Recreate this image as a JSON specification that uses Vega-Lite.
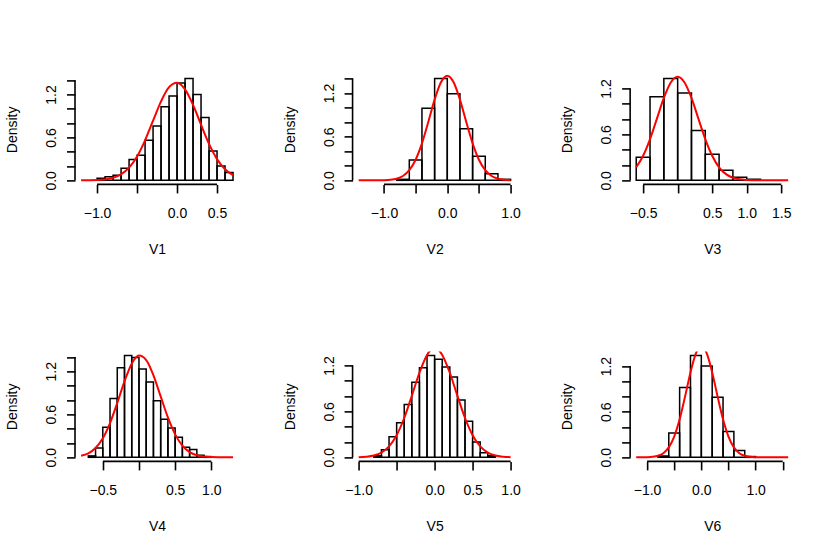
{
  "$schema": "https://vega.github.io/schema/vega-lite/v6.json",
  "background": "white",
  "autosize": {"type": "pad"},
  "padding": {"left": 5, "top": 74.4, "right": 10, "bottom": 10},
  "columns": 3,
  "spacing": {"row": 167, "column": 112.57},
  "bounds": "flush",
  "datasets": {
    "hist": [
      {"v": "V1", "x": -1.0, "x2": -0.9, "d": 0.03},
      {"v": "V1", "x": -0.9, "x2": -0.8, "d": 0.05},
      {"v": "V1", "x": -0.8, "x2": -0.7, "d": 0.07},
      {"v": "V1", "x": -0.7, "x2": -0.6, "d": 0.17},
      {"v": "V1", "x": -0.6, "x2": -0.5, "d": 0.29},
      {"v": "V1", "x": -0.5, "x2": -0.4, "d": 0.35},
      {"v": "V1", "x": -0.4, "x2": -0.3, "d": 0.56},
      {"v": "V1", "x": -0.3, "x2": -0.2, "d": 0.76},
      {"v": "V1", "x": -0.2, "x2": -0.1, "d": 1.03},
      {"v": "V1", "x": -0.1, "x2": 0.0, "d": 1.18},
      {"v": "V1", "x": 0.0, "x2": 0.1, "d": 1.36},
      {"v": "V1", "x": 0.1, "x2": 0.2, "d": 1.425},
      {"v": "V1", "x": 0.2, "x2": 0.3, "d": 1.2},
      {"v": "V1", "x": 0.3, "x2": 0.4, "d": 0.88},
      {"v": "V1", "x": 0.4, "x2": 0.5, "d": 0.41},
      {"v": "V1", "x": 0.5, "x2": 0.6, "d": 0.2},
      {"v": "V1", "x": 0.6, "x2": 0.7, "d": 0.11},
      {"v": "V2", "x": -0.8, "x2": -0.6, "d": 0.014},
      {"v": "V2", "x": -0.6, "x2": -0.4, "d": 0.28},
      {"v": "V2", "x": -0.4, "x2": -0.2, "d": 0.99},
      {"v": "V2", "x": -0.2, "x2": 0.0, "d": 1.4},
      {"v": "V2", "x": 0.0, "x2": 0.2, "d": 1.19},
      {"v": "V2", "x": 0.2, "x2": 0.4, "d": 0.71},
      {"v": "V2", "x": 0.4, "x2": 0.6, "d": 0.33},
      {"v": "V2", "x": 0.6, "x2": 0.8, "d": 0.09},
      {"v": "V2", "x": 0.8, "x2": 1.0, "d": 0.014},
      {"v": "V3", "x": -0.6, "x2": -0.4, "d": 0.3},
      {"v": "V3", "x": -0.4, "x2": -0.2, "d": 1.09},
      {"v": "V3", "x": -0.2, "x2": 0.0, "d": 1.33},
      {"v": "V3", "x": 0.0, "x2": 0.2, "d": 1.14},
      {"v": "V3", "x": 0.2, "x2": 0.4, "d": 0.65},
      {"v": "V3", "x": 0.4, "x2": 0.6, "d": 0.34},
      {"v": "V3", "x": 0.6, "x2": 0.8, "d": 0.13},
      {"v": "V3", "x": 0.8, "x2": 1.0, "d": 0.04},
      {"v": "V3", "x": 1.0, "x2": 1.2, "d": 0.013},
      {"v": "V4", "x": -0.7, "x2": -0.6, "d": 0.02},
      {"v": "V4", "x": -0.6, "x2": -0.5, "d": 0.13},
      {"v": "V4", "x": -0.5, "x2": -0.4, "d": 0.42},
      {"v": "V4", "x": -0.4, "x2": -0.3, "d": 0.82},
      {"v": "V4", "x": -0.3, "x2": -0.2, "d": 1.25},
      {"v": "V4", "x": -0.2, "x2": -0.1, "d": 1.42},
      {"v": "V4", "x": -0.1, "x2": 0.0, "d": 1.39},
      {"v": "V4", "x": 0.0, "x2": 0.1, "d": 1.23},
      {"v": "V4", "x": 0.1, "x2": 0.2, "d": 1.05},
      {"v": "V4", "x": 0.2, "x2": 0.3, "d": 0.79},
      {"v": "V4", "x": 0.3, "x2": 0.4, "d": 0.53},
      {"v": "V4", "x": 0.4, "x2": 0.5, "d": 0.41},
      {"v": "V4", "x": 0.5, "x2": 0.6, "d": 0.28},
      {"v": "V4", "x": 0.6, "x2": 0.7, "d": 0.14},
      {"v": "V4", "x": 0.7, "x2": 0.8, "d": 0.11},
      {"v": "V4", "x": 0.8, "x2": 0.9, "d": 0.03},
      {"v": "V4", "x": 0.9, "x2": 1.0, "d": 0.01},
      {"v": "V5", "x": -0.8, "x2": -0.7, "d": 0.02},
      {"v": "V5", "x": -0.7, "x2": -0.6, "d": 0.1},
      {"v": "V5", "x": -0.6, "x2": -0.5, "d": 0.27},
      {"v": "V5", "x": -0.5, "x2": -0.4, "d": 0.45},
      {"v": "V5", "x": -0.4, "x2": -0.3, "d": 0.69},
      {"v": "V5", "x": -0.3, "x2": -0.2, "d": 0.98},
      {"v": "V5", "x": -0.2, "x2": -0.1, "d": 1.17},
      {"v": "V5", "x": -0.1, "x2": 0.0, "d": 1.33},
      {"v": "V5", "x": 0.0, "x2": 0.1, "d": 1.28},
      {"v": "V5", "x": 0.1, "x2": 0.2, "d": 1.18},
      {"v": "V5", "x": 0.2, "x2": 0.3, "d": 1.05},
      {"v": "V5", "x": 0.3, "x2": 0.4, "d": 0.75},
      {"v": "V5", "x": 0.4, "x2": 0.5, "d": 0.47},
      {"v": "V5", "x": 0.5, "x2": 0.6, "d": 0.2},
      {"v": "V5", "x": 0.6, "x2": 0.7, "d": 0.06},
      {"v": "V5", "x": 0.7, "x2": 0.8, "d": 0.02},
      {"v": "V6", "x": -0.8, "x2": -0.6, "d": 0.018},
      {"v": "V6", "x": -0.6, "x2": -0.4, "d": 0.32},
      {"v": "V6", "x": -0.4, "x2": -0.2, "d": 0.92},
      {"v": "V6", "x": -0.2, "x2": 0.0, "d": 1.34},
      {"v": "V6", "x": 0.0, "x2": 0.2, "d": 1.2},
      {"v": "V6", "x": 0.2, "x2": 0.4, "d": 0.79},
      {"v": "V6", "x": 0.4, "x2": 0.6, "d": 0.34},
      {"v": "V6", "x": 0.6, "x2": 0.8, "d": 0.09},
      {"v": "V6", "x": 0.8, "x2": 1.0, "d": 0.01}
    ],
    "fit": [
      {"v": "V1", "x": -1.2, "d": 0.0003},
      {"v": "V1", "x": -1.1, "d": 0.0013},
      {"v": "V1", "x": -1.0, "d": 0.0044},
      {"v": "V1", "x": -0.9, "d": 0.0131},
      {"v": "V1", "x": -0.8, "d": 0.0352},
      {"v": "V1", "x": -0.7, "d": 0.0838},
      {"v": "V1", "x": -0.6, "d": 0.1773},
      {"v": "V1", "x": -0.5, "d": 0.334},
      {"v": "V1", "x": -0.4, "d": 0.56},
      {"v": "V1", "x": -0.3, "d": 0.834},
      {"v": "V1", "x": -0.2, "d": 1.105},
      {"v": "V1", "x": -0.1, "d": 1.303},
      {"v": "V1", "x": 0.0, "d": 1.365},
      {"v": "V1", "x": 0.1, "d": 1.272},
      {"v": "V1", "x": 0.2, "d": 1.055},
      {"v": "V1", "x": 0.3, "d": 0.778},
      {"v": "V1", "x": 0.4, "d": 0.51},
      {"v": "V1", "x": 0.5, "d": 0.297},
      {"v": "V1", "x": 0.6, "d": 0.154},
      {"v": "V1", "x": 0.7, "d": 0.071},
      {"v": "V2", "x": -1.4, "d": 0.0},
      {"v": "V2", "x": -1.3, "d": 0.0},
      {"v": "V2", "x": -1.2, "d": 0.0001},
      {"v": "V2", "x": -1.1, "d": 0.0006},
      {"v": "V2", "x": -1.0, "d": 0.0022},
      {"v": "V2", "x": -0.9, "d": 0.0075},
      {"v": "V2", "x": -0.8, "d": 0.0225},
      {"v": "V2", "x": -0.7, "d": 0.0595},
      {"v": "V2", "x": -0.6, "d": 0.1387},
      {"v": "V2", "x": -0.5, "d": 0.2833},
      {"v": "V2", "x": -0.4, "d": 0.5085},
      {"v": "V2", "x": -0.3, "d": 0.8013},
      {"v": "V2", "x": -0.2, "d": 1.1089},
      {"v": "V2", "x": -0.1, "d": 1.3476},
      {"v": "V2", "x": 0.0, "d": 1.438},
      {"v": "V2", "x": 0.1, "d": 1.3476},
      {"v": "V2", "x": 0.2, "d": 1.1089},
      {"v": "V2", "x": 0.3, "d": 0.8013},
      {"v": "V2", "x": 0.4, "d": 0.5085},
      {"v": "V2", "x": 0.5, "d": 0.2833},
      {"v": "V2", "x": 0.6, "d": 0.1387},
      {"v": "V2", "x": 0.7, "d": 0.0595},
      {"v": "V2", "x": 0.8, "d": 0.0225},
      {"v": "V2", "x": 0.9, "d": 0.0075},
      {"v": "V2", "x": 1.0, "d": 0.0022},
      {"v": "V3", "x": -0.6, "d": 0.1702},
      {"v": "V3", "x": -0.5, "d": 0.3208},
      {"v": "V3", "x": -0.4, "d": 0.5386},
      {"v": "V3", "x": -0.3, "d": 0.8062},
      {"v": "V3", "x": -0.2, "d": 1.0753},
      {"v": "V3", "x": -0.1, "d": 1.2782},
      {"v": "V3", "x": 0.0, "d": 1.354},
      {"v": "V3", "x": 0.1, "d": 1.2782},
      {"v": "V3", "x": 0.2, "d": 1.0753},
      {"v": "V3", "x": 0.3, "d": 0.8062},
      {"v": "V3", "x": 0.4, "d": 0.5386},
      {"v": "V3", "x": 0.5, "d": 0.3208},
      {"v": "V3", "x": 0.6, "d": 0.1702},
      {"v": "V3", "x": 0.7, "d": 0.0804},
      {"v": "V3", "x": 0.8, "d": 0.0339},
      {"v": "V3", "x": 0.9, "d": 0.0127},
      {"v": "V3", "x": 1.0, "d": 0.0043},
      {"v": "V3", "x": 1.1, "d": 0.0013},
      {"v": "V3", "x": 1.2, "d": 0.0003},
      {"v": "V3", "x": 1.3, "d": 0.0001},
      {"v": "V3", "x": 1.4, "d": 0.0},
      {"v": "V3", "x": 1.5, "d": 0.0},
      {"v": "V3", "x": 1.6, "d": 0.0},
      {"v": "V4", "x": -0.8, "d": 0.0212},
      {"v": "V4", "x": -0.7, "d": 0.0558},
      {"v": "V4", "x": -0.6, "d": 0.1295},
      {"v": "V4", "x": -0.5, "d": 0.2648},
      {"v": "V4", "x": -0.4, "d": 0.4773},
      {"v": "V4", "x": -0.3, "d": 0.7576},
      {"v": "V4", "x": -0.2, "d": 1.0596},
      {"v": "V4", "x": -0.1, "d": 1.306},
      {"v": "V4", "x": 0.0, "d": 1.418},
      {"v": "V4", "x": 0.1, "d": 1.3565},
      {"v": "V4", "x": 0.2, "d": 1.1432},
      {"v": "V4", "x": 0.3, "d": 0.849},
      {"v": "V4", "x": 0.4, "d": 0.5555},
      {"v": "V4", "x": 0.5, "d": 0.3202},
      {"v": "V4", "x": 0.6, "d": 0.1626},
      {"v": "V4", "x": 0.7, "d": 0.0728},
      {"v": "V4", "x": 0.8, "d": 0.0287},
      {"v": "V4", "x": 0.9, "d": 0.01},
      {"v": "V4", "x": 1.0, "d": 0.0031},
      {"v": "V4", "x": 1.1, "d": 0.0008},
      {"v": "V4", "x": 1.2, "d": 0.0002},
      {"v": "V4", "x": 1.3, "d": 0.0},
      {"v": "V5", "x": -1.0, "d": 0.0024},
      {"v": "V5", "x": -0.9, "d": 0.0081},
      {"v": "V5", "x": -0.8, "d": 0.024},
      {"v": "V5", "x": -0.7, "d": 0.0626},
      {"v": "V5", "x": -0.6, "d": 0.1435},
      {"v": "V5", "x": -0.5, "d": 0.2893},
      {"v": "V5", "x": -0.4, "d": 0.5136},
      {"v": "V5", "x": -0.3, "d": 0.8027},
      {"v": "V5", "x": -0.2, "d": 1.1041},
      {"v": "V5", "x": -0.1, "d": 1.337},
      {"v": "V5", "x": -0.05, "d": 1.4025},
      {"v": "V5", "x": 0.0, "d": 1.425},
      {"v": "V5", "x": 0.05, "d": 1.4025},
      {"v": "V5", "x": 0.1, "d": 1.337},
      {"v": "V5", "x": 0.2, "d": 1.1041},
      {"v": "V5", "x": 0.3, "d": 0.8027},
      {"v": "V5", "x": 0.4, "d": 0.5136},
      {"v": "V5", "x": 0.5, "d": 0.2893},
      {"v": "V5", "x": 0.6, "d": 0.1435},
      {"v": "V5", "x": 0.7, "d": 0.0626},
      {"v": "V5", "x": 0.8, "d": 0.024},
      {"v": "V5", "x": 0.9, "d": 0.0081},
      {"v": "V5", "x": 1.0, "d": 0.0024},
      {"v": "V6", "x": -1.2, "d": 0.0001},
      {"v": "V6", "x": -1.1, "d": 0.0004},
      {"v": "V6", "x": -1.0, "d": 0.0018},
      {"v": "V6", "x": -0.9, "d": 0.0064},
      {"v": "V6", "x": -0.8, "d": 0.0199},
      {"v": "V6", "x": -0.7, "d": 0.0546},
      {"v": "V6", "x": -0.6, "d": 0.1306},
      {"v": "V6", "x": -0.5, "d": 0.273},
      {"v": "V6", "x": -0.4, "d": 0.4994},
      {"v": "V6", "x": -0.3, "d": 0.7988},
      {"v": "V6", "x": -0.2, "d": 1.1171},
      {"v": "V6", "x": -0.1, "d": 1.3662},
      {"v": "V6", "x": -0.05, "d": 1.4367},
      {"v": "V6", "x": 0.0, "d": 1.461},
      {"v": "V6", "x": 0.05, "d": 1.4367},
      {"v": "V6", "x": 0.1, "d": 1.3662},
      {"v": "V6", "x": 0.2, "d": 1.1171},
      {"v": "V6", "x": 0.3, "d": 0.7988},
      {"v": "V6", "x": 0.4, "d": 0.4994},
      {"v": "V6", "x": 0.5, "d": 0.273},
      {"v": "V6", "x": 0.6, "d": 0.1306},
      {"v": "V6", "x": 0.7, "d": 0.0546},
      {"v": "V6", "x": 0.8, "d": 0.0199},
      {"v": "V6", "x": 0.9, "d": 0.0064},
      {"v": "V6", "x": 1.0, "d": 0.0018},
      {"v": "V6", "x": 1.1, "d": 0.0004},
      {"v": "V6", "x": 1.2, "d": 0.0001},
      {"v": "V6", "x": 1.3, "d": 0.0},
      {"v": "V6", "x": 1.4, "d": 0.0},
      {"v": "V6", "x": 1.5, "d": 0.0},
      {"v": "V6", "x": 1.6, "d": 0.0}
    ]
  },
  "concat": [
    {
      "width": 164.1,
      "height": 110,
      "layer": [
        {"data": {"name": "hist"}, "transform": [{"filter": "datum.v == 'V1'"}],
          "mark": {"type": "rect", "filled": false, "stroke": "black", "strokeWidth": 1.5},
          "encoding": {
            "x": {"field": "x", "type": "quantitative", "title": "V1", "scale": {"domain": [-1.276, 0.776], "nice": false, "zero": false},
              "axis": {"title": "V1", "tickCount": 20, "values": [-1, -0.5, 0, 0.5], "labelExpr": "datum.value == -1 || datum.value == 0 || datum.value == 0.5 ? format(datum.value, '.1f') : ''"}},
            "x2": {"field": "x2"},
            "y": {"field": "d", "type": "quantitative", "title": "Density", "scale": {"domain": [-0.057, 1.482], "nice": false, "zero": false},
              "axis": {"title": "Density", "tickCount": 20, "values": [0, 0.2, 0.4, 0.6, 0.8, 1, 1.2, 1.4], "labelExpr": "datum.value == 0 || datum.value == 0.6 || datum.value == 1.2 ? format(datum.value, '.1f') : ''"}},
            "y2": {"datum": 0}
          }},
        {"data": {"name": "fit"}, "transform": [{"filter": "datum.v == 'V1'"}],
          "mark": {"type": "line", "color": "#ff0000", "strokeWidth": 2, "interpolate": "monotone", "clip": true},
          "encoding": {
            "x": {"field": "x", "type": "quantitative", "title": "V1"},
            "y": {"field": "d", "type": "quantitative", "title": "Density"}
          }},
        {"data": {"values": [{}]}, "mark": {"type": "rule", "color": "black", "strokeWidth": 1.6},
          "encoding": {
            "x": {"datum": -1, "type": "quantitative", "axis": {"title": "V1", "tickCount": 20, "values": [-1, -0.5, 0, 0.5], "labelExpr": "datum.value == -1 || datum.value == 0 || datum.value == 0.5 ? format(datum.value, '.1f') : ''"}},
            "x2": {"datum": 0.5},
            "y": {"datum": -0.057, "type": "quantitative", "axis": {"title": "Density", "tickCount": 20, "values": [0, 0.2, 0.4, 0.6, 0.8, 1, 1.2, 1.4], "labelExpr": "datum.value == 0 || datum.value == 0.6 || datum.value == 1.2 ? format(datum.value, '.1f') : ''"}}
          }},
        {"data": {"values": [{}]}, "mark": {"type": "rule", "color": "black", "strokeWidth": 1.6},
          "encoding": {
            "x": {"datum": -1.276, "type": "quantitative", "axis": {"title": "V1", "tickCount": 20, "values": [-1, -0.5, 0, 0.5], "labelExpr": "datum.value == -1 || datum.value == 0 || datum.value == 0.5 ? format(datum.value, '.1f') : ''"}},
            "y": {"datum": 0, "type": "quantitative", "axis": {"title": "Density", "tickCount": 20, "values": [0, 0.2, 0.4, 0.6, 0.8, 1, 1.2, 1.4], "labelExpr": "datum.value == 0 || datum.value == 0.6 || datum.value == 1.2 ? format(datum.value, '.1f') : ''"}},
            "y2": {"datum": 1.4}
          }}
      ]
    },
    {
      "width": 164.1,
      "height": 110,
      "layer": [
        {"data": {"name": "hist"}, "transform": [{"filter": "datum.v == 'V2'"}],
          "mark": {"type": "rect", "filled": false, "stroke": "black", "strokeWidth": 1.5},
          "encoding": {
            "x": {"field": "x", "type": "quantitative", "title": "V2", "scale": {"domain": [-1.496, 1.096], "nice": false, "zero": false},
              "axis": {"title": "V2", "tickCount": 20, "values": [-1, -0.5, 0, 0.5, 1], "labelExpr": "datum.value == -1 || datum.value == 0 || datum.value == 1 ? format(datum.value, '.1f') : ''"}},
            "x2": {"field": "x2"},
            "y": {"field": "d", "type": "quantitative", "title": "Density", "scale": {"domain": [-0.056, 1.456], "nice": false, "zero": false},
              "axis": {"title": "Density", "tickCount": 20, "values": [0, 0.2, 0.4, 0.6, 0.8, 1, 1.2, 1.4], "labelExpr": "datum.value == 0 || datum.value == 0.6 || datum.value == 1.2 ? format(datum.value, '.1f') : ''"}},
            "y2": {"datum": 0}
          }},
        {"data": {"name": "fit"}, "transform": [{"filter": "datum.v == 'V2'"}],
          "mark": {"type": "line", "color": "#ff0000", "strokeWidth": 2, "interpolate": "monotone", "clip": true},
          "encoding": {
            "x": {"field": "x", "type": "quantitative", "title": "V2"},
            "y": {"field": "d", "type": "quantitative", "title": "Density"}
          }},
        {"data": {"values": [{}]}, "mark": {"type": "rule", "color": "black", "strokeWidth": 1.6},
          "encoding": {
            "x": {"datum": -1, "type": "quantitative", "axis": {"title": "V2", "tickCount": 20, "values": [-1, -0.5, 0, 0.5, 1], "labelExpr": "datum.value == -1 || datum.value == 0 || datum.value == 1 ? format(datum.value, '.1f') : ''"}},
            "x2": {"datum": 1},
            "y": {"datum": -0.056, "type": "quantitative", "axis": {"title": "Density", "tickCount": 20, "values": [0, 0.2, 0.4, 0.6, 0.8, 1, 1.2, 1.4], "labelExpr": "datum.value == 0 || datum.value == 0.6 || datum.value == 1.2 ? format(datum.value, '.1f') : ''"}}
          }},
        {"data": {"values": [{}]}, "mark": {"type": "rule", "color": "black", "strokeWidth": 1.6},
          "encoding": {
            "x": {"datum": -1.496, "type": "quantitative", "axis": {"title": "V2", "tickCount": 20, "values": [-1, -0.5, 0, 0.5, 1], "labelExpr": "datum.value == -1 || datum.value == 0 || datum.value == 1 ? format(datum.value, '.1f') : ''"}},
            "y": {"datum": 0, "type": "quantitative", "axis": {"title": "Density", "tickCount": 20, "values": [0, 0.2, 0.4, 0.6, 0.8, 1, 1.2, 1.4], "labelExpr": "datum.value == 0 || datum.value == 0.6 || datum.value == 1.2 ? format(datum.value, '.1f') : ''"}},
            "y2": {"datum": 1.4}
          }}
      ]
    },
    {
      "width": 164.1,
      "height": 110,
      "layer": [
        {"data": {"name": "hist"}, "transform": [{"filter": "datum.v == 'V3'"}],
          "mark": {"type": "rect", "filled": false, "stroke": "black", "strokeWidth": 1.5},
          "encoding": {
            "x": {"field": "x", "type": "quantitative", "title": "V3", "scale": {"domain": [-0.688, 1.688], "nice": false, "zero": false},
              "axis": {"title": "V3", "tickCount": 20, "values": [-0.5, 0, 0.5, 1, 1.5], "labelExpr": "datum.value == -0.5 || datum.value == 0.5 || datum.value == 1 || datum.value == 1.5 ? format(datum.value, '.1f') : ''"}},
            "x2": {"field": "x2"},
            "y": {"field": "d", "type": "quantitative", "title": "Density", "scale": {"domain": [-0.0532, 1.3832], "nice": false, "zero": false},
              "axis": {"title": "Density", "tickCount": 20, "values": [0, 0.2, 0.4, 0.6, 0.8, 1, 1.2], "labelExpr": "datum.value == 0 || datum.value == 0.6 || datum.value == 1.2 ? format(datum.value, '.1f') : ''"}},
            "y2": {"datum": 0}
          }},
        {"data": {"name": "fit"}, "transform": [{"filter": "datum.v == 'V3'"}],
          "mark": {"type": "line", "color": "#ff0000", "strokeWidth": 2, "interpolate": "monotone", "clip": true},
          "encoding": {
            "x": {"field": "x", "type": "quantitative", "title": "V3"},
            "y": {"field": "d", "type": "quantitative", "title": "Density"}
          }},
        {"data": {"values": [{}]}, "mark": {"type": "rule", "color": "black", "strokeWidth": 1.6},
          "encoding": {
            "x": {"datum": -0.5, "type": "quantitative", "axis": {"title": "V3", "tickCount": 20, "values": [-0.5, 0, 0.5, 1, 1.5], "labelExpr": "datum.value == -0.5 || datum.value == 0.5 || datum.value == 1 || datum.value == 1.5 ? format(datum.value, '.1f') : ''"}},
            "x2": {"datum": 1.5},
            "y": {"datum": -0.0532, "type": "quantitative", "axis": {"title": "Density", "tickCount": 20, "values": [0, 0.2, 0.4, 0.6, 0.8, 1, 1.2], "labelExpr": "datum.value == 0 || datum.value == 0.6 || datum.value == 1.2 ? format(datum.value, '.1f') : ''"}}
          }},
        {"data": {"values": [{}]}, "mark": {"type": "rule", "color": "black", "strokeWidth": 1.6},
          "encoding": {
            "x": {"datum": -0.688, "type": "quantitative", "axis": {"title": "V3", "tickCount": 20, "values": [-0.5, 0, 0.5, 1, 1.5], "labelExpr": "datum.value == -0.5 || datum.value == 0.5 || datum.value == 1 || datum.value == 1.5 ? format(datum.value, '.1f') : ''"}},
            "y": {"datum": 0, "type": "quantitative", "axis": {"title": "Density", "tickCount": 20, "values": [0, 0.2, 0.4, 0.6, 0.8, 1, 1.2], "labelExpr": "datum.value == 0 || datum.value == 0.6 || datum.value == 1.2 ? format(datum.value, '.1f') : ''"}},
            "y2": {"datum": 1.2}
          }}
      ]
    },
    {
      "width": 164.1,
      "height": 110,
      "layer": [
        {"data": {"name": "hist"}, "transform": [{"filter": "datum.v == 'V4'"}],
          "mark": {"type": "rect", "filled": false, "stroke": "black", "strokeWidth": 1.5},
          "encoding": {
            "x": {"field": "x", "type": "quantitative", "title": "V4", "scale": {"domain": [-0.884, 1.384], "nice": false, "zero": false},
              "axis": {"title": "V4", "tickCount": 20, "values": [-0.5, 0, 0.5, 1], "labelExpr": "datum.value == -0.5 || datum.value == 0.5 || datum.value == 1 ? format(datum.value, '.1f') : ''"}},
            "x2": {"field": "x2"},
            "y": {"field": "d", "type": "quantitative", "title": "Density", "scale": {"domain": [-0.0568, 1.4768], "nice": false, "zero": false},
              "axis": {"title": "Density", "tickCount": 20, "values": [0, 0.2, 0.4, 0.6, 0.8, 1, 1.2, 1.4], "labelExpr": "datum.value == 0 || datum.value == 0.6 || datum.value == 1.2 ? format(datum.value, '.1f') : ''"}},
            "y2": {"datum": 0}
          }},
        {"data": {"name": "fit"}, "transform": [{"filter": "datum.v == 'V4'"}],
          "mark": {"type": "line", "color": "#ff0000", "strokeWidth": 2, "interpolate": "monotone", "clip": true},
          "encoding": {
            "x": {"field": "x", "type": "quantitative", "title": "V4"},
            "y": {"field": "d", "type": "quantitative", "title": "Density"}
          }},
        {"data": {"values": [{}]}, "mark": {"type": "rule", "color": "black", "strokeWidth": 1.6},
          "encoding": {
            "x": {"datum": -0.5, "type": "quantitative", "axis": {"title": "V4", "tickCount": 20, "values": [-0.5, 0, 0.5, 1], "labelExpr": "datum.value == -0.5 || datum.value == 0.5 || datum.value == 1 ? format(datum.value, '.1f') : ''"}},
            "x2": {"datum": 1},
            "y": {"datum": -0.0568, "type": "quantitative", "axis": {"title": "Density", "tickCount": 20, "values": [0, 0.2, 0.4, 0.6, 0.8, 1, 1.2, 1.4], "labelExpr": "datum.value == 0 || datum.value == 0.6 || datum.value == 1.2 ? format(datum.value, '.1f') : ''"}}
          }},
        {"data": {"values": [{}]}, "mark": {"type": "rule", "color": "black", "strokeWidth": 1.6},
          "encoding": {
            "x": {"datum": -0.884, "type": "quantitative", "axis": {"title": "V4", "tickCount": 20, "values": [-0.5, 0, 0.5, 1], "labelExpr": "datum.value == -0.5 || datum.value == 0.5 || datum.value == 1 ? format(datum.value, '.1f') : ''"}},
            "y": {"datum": 0, "type": "quantitative", "axis": {"title": "Density", "tickCount": 20, "values": [0, 0.2, 0.4, 0.6, 0.8, 1, 1.2, 1.4], "labelExpr": "datum.value == 0 || datum.value == 0.6 || datum.value == 1.2 ? format(datum.value, '.1f') : ''"}},
            "y2": {"datum": 1.4}
          }}
      ]
    },
    {
      "width": 164.1,
      "height": 110,
      "layer": [
        {"data": {"name": "hist"}, "transform": [{"filter": "datum.v == 'V5'"}],
          "mark": {"type": "rect", "filled": false, "stroke": "black", "strokeWidth": 1.5},
          "encoding": {
            "x": {"field": "x", "type": "quantitative", "title": "V5", "scale": {"domain": [-1.08, 1.08], "nice": false, "zero": false},
              "axis": {"title": "V5", "tickCount": 20, "values": [-1, -0.5, 0, 0.5, 1], "labelExpr": "datum.value == -1 || datum.value == 0 || datum.value == 0.5 || datum.value == 1 ? format(datum.value, '.1f') : ''"}},
            "x2": {"field": "x2"},
            "y": {"field": "d", "type": "quantitative", "title": "Density", "scale": {"domain": [-0.0532, 1.3832], "nice": false, "zero": false},
              "axis": {"title": "Density", "tickCount": 20, "values": [0, 0.2, 0.4, 0.6, 0.8, 1, 1.2], "labelExpr": "datum.value == 0 || datum.value == 0.6 || datum.value == 1.2 ? format(datum.value, '.1f') : ''"}},
            "y2": {"datum": 0}
          }},
        {"data": {"name": "fit"}, "transform": [{"filter": "datum.v == 'V5'"}],
          "mark": {"type": "line", "color": "#ff0000", "strokeWidth": 2, "interpolate": "monotone", "clip": true},
          "encoding": {
            "x": {"field": "x", "type": "quantitative", "title": "V5"},
            "y": {"field": "d", "type": "quantitative", "title": "Density"}
          }},
        {"data": {"values": [{}]}, "mark": {"type": "rule", "color": "black", "strokeWidth": 1.6},
          "encoding": {
            "x": {"datum": -1, "type": "quantitative", "axis": {"title": "V5", "tickCount": 20, "values": [-1, -0.5, 0, 0.5, 1], "labelExpr": "datum.value == -1 || datum.value == 0 || datum.value == 0.5 || datum.value == 1 ? format(datum.value, '.1f') : ''"}},
            "x2": {"datum": 1},
            "y": {"datum": -0.0532, "type": "quantitative", "axis": {"title": "Density", "tickCount": 20, "values": [0, 0.2, 0.4, 0.6, 0.8, 1, 1.2], "labelExpr": "datum.value == 0 || datum.value == 0.6 || datum.value == 1.2 ? format(datum.value, '.1f') : ''"}}
          }},
        {"data": {"values": [{}]}, "mark": {"type": "rule", "color": "black", "strokeWidth": 1.6},
          "encoding": {
            "x": {"datum": -1.08, "type": "quantitative", "axis": {"title": "V5", "tickCount": 20, "values": [-1, -0.5, 0, 0.5, 1], "labelExpr": "datum.value == -1 || datum.value == 0 || datum.value == 0.5 || datum.value == 1 ? format(datum.value, '.1f') : ''"}},
            "y": {"datum": 0, "type": "quantitative", "axis": {"title": "Density", "tickCount": 20, "values": [0, 0.2, 0.4, 0.6, 0.8, 1, 1.2], "labelExpr": "datum.value == 0 || datum.value == 0.6 || datum.value == 1.2 ? format(datum.value, '.1f') : ''"}},
            "y2": {"datum": 1.2}
          }}
      ]
    },
    {
      "width": 164.1,
      "height": 110,
      "layer": [
        {"data": {"name": "hist"}, "transform": [{"filter": "datum.v == 'V6'"}],
          "mark": {"type": "rect", "filled": false, "stroke": "black", "strokeWidth": 1.5},
          "encoding": {
            "x": {"field": "x", "type": "quantitative", "title": "V6", "scale": {"domain": [-1.312, 1.712], "nice": false, "zero": false},
              "axis": {"title": "V6", "tickCount": 20, "values": [-1, -0.5, 0, 0.5, 1, 1.5], "labelExpr": "datum.value == -1 || datum.value == 0 || datum.value == 1 ? format(datum.value, '.1f') : ''"}},
            "x2": {"field": "x2"},
            "y": {"field": "d", "type": "quantitative", "title": "Density", "scale": {"domain": [-0.0536, 1.3936], "nice": false, "zero": false},
              "axis": {"title": "Density", "tickCount": 20, "values": [0, 0.2, 0.4, 0.6, 0.8, 1, 1.2], "labelExpr": "datum.value == 0 || datum.value == 0.6 || datum.value == 1.2 ? format(datum.value, '.1f') : ''"}},
            "y2": {"datum": 0}
          }},
        {"data": {"name": "fit"}, "transform": [{"filter": "datum.v == 'V6'"}],
          "mark": {"type": "line", "color": "#ff0000", "strokeWidth": 2, "interpolate": "monotone", "clip": true},
          "encoding": {
            "x": {"field": "x", "type": "quantitative", "title": "V6"},
            "y": {"field": "d", "type": "quantitative", "title": "Density"}
          }},
        {"data": {"values": [{}]}, "mark": {"type": "rule", "color": "black", "strokeWidth": 1.6},
          "encoding": {
            "x": {"datum": -1, "type": "quantitative", "axis": {"title": "V6", "tickCount": 20, "values": [-1, -0.5, 0, 0.5, 1, 1.5], "labelExpr": "datum.value == -1 || datum.value == 0 || datum.value == 1 ? format(datum.value, '.1f') : ''"}},
            "x2": {"datum": 1.5},
            "y": {"datum": -0.0536, "type": "quantitative", "axis": {"title": "Density", "tickCount": 20, "values": [0, 0.2, 0.4, 0.6, 0.8, 1, 1.2], "labelExpr": "datum.value == 0 || datum.value == 0.6 || datum.value == 1.2 ? format(datum.value, '.1f') : ''"}}
          }},
        {"data": {"values": [{}]}, "mark": {"type": "rule", "color": "black", "strokeWidth": 1.6},
          "encoding": {
            "x": {"datum": -1.312, "type": "quantitative", "axis": {"title": "V6", "tickCount": 20, "values": [-1, -0.5, 0, 0.5, 1, 1.5], "labelExpr": "datum.value == -1 || datum.value == 0 || datum.value == 1 ? format(datum.value, '.1f') : ''"}},
            "y": {"datum": 0, "type": "quantitative", "axis": {"title": "Density", "tickCount": 20, "values": [0, 0.2, 0.4, 0.6, 0.8, 1, 1.2], "labelExpr": "datum.value == 0 || datum.value == 0.6 || datum.value == 1.2 ? format(datum.value, '.1f') : ''"}},
            "y2": {"datum": 1.2}
          }}
      ]
    }
  ],
  "config": {
    "view": {"stroke": null},
    "font": "Liberation Sans",
    "axis": {
      "grid": false,
      "domainOpacity": 0,
      "tickColor": "black",
      "tickWidth": 1.6,
      "tickSize": 8.5,
      "tickCount": 20,
      "labelFont": "Liberation Sans",
      "labelFontSize": 14,
      "labelColor": "black",
      "labelOverlap": false,
      "labelFlush": false,
      "labelBound": false,
      "titleFont": "Liberation Sans",
      "titleFontSize": 14,
      "titleFontWeight": "normal",
      "titleColor": "black",
      "titlePadding": 0
    },
    "axisX": {
      "labelAngle": 0,
      "labelAlign": "center",
      "labelBaseline": "alphabetic",
      "labelPadding": 24.5,
      "titleX": 82.05,
      "titleY": 68.9,
      "titleAngle": 0,
      "titleAlign": "center",
      "titleBaseline": "alphabetic"
    },
    "axisY": {
      "labelAngle": -90,
      "labelAlign": "center",
      "labelBaseline": "alphabetic",
      "labelPadding": 11,
      "titleX": -58.4,
      "titleY": 55,
      "titleAngle": -90,
      "titleAlign": "center",
      "titleBaseline": "alphabetic"
    }
  }
}
